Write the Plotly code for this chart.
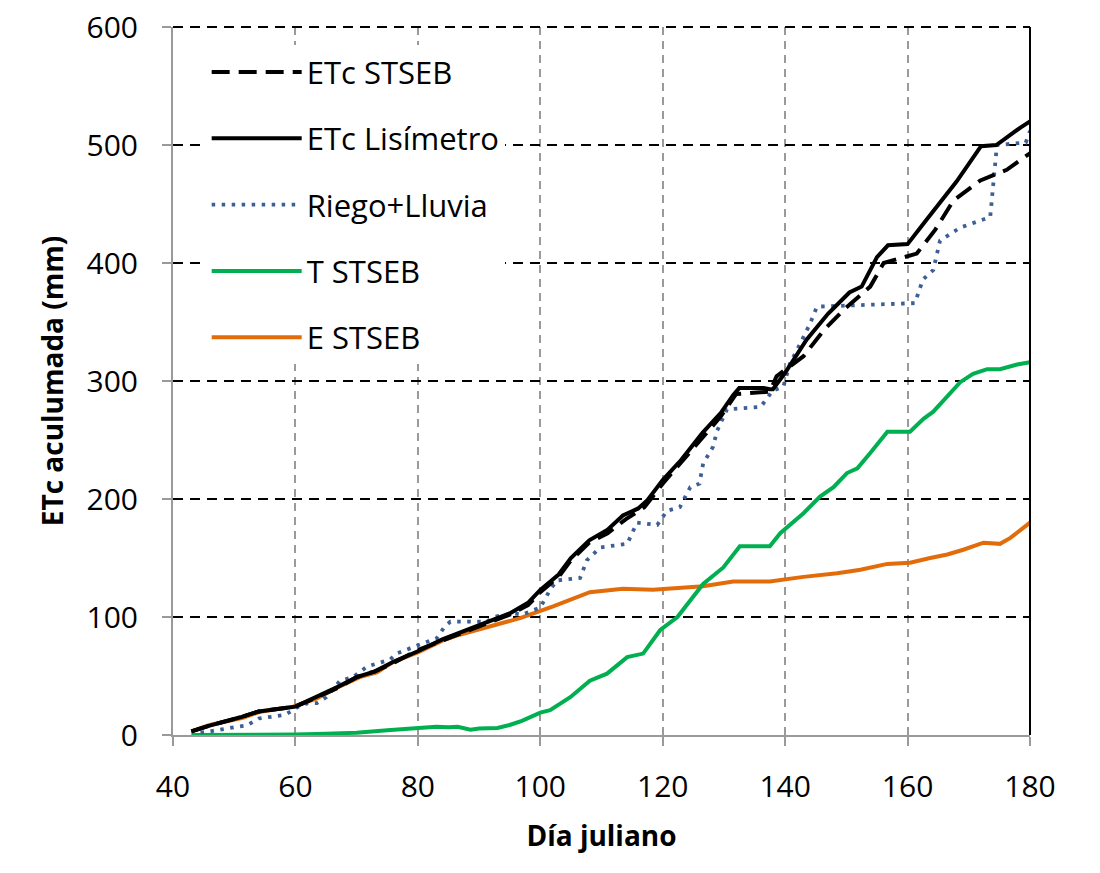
import plotly.graph_objects as go

# ETc Lisímetro (solid black)
lis_day = [43, 46, 51, 54, 60, 63, 67, 70, 73, 76, 80, 84, 87, 90, 92, 95, 98, 100, 103, 105,
           108, 111, 113.5, 116, 117.5, 120, 123, 126.5, 129.5, 131.5, 132.5, 136.5, 137.5, 138,
           140, 143.5, 147, 150.5, 152.5, 155, 156.8, 160, 163, 165.5, 168, 172, 174.5, 178.5, 180]
lis_val = [3, 8, 15, 20, 24, 31, 41, 49, 54, 62, 71, 81, 87, 93, 97, 103, 112, 123, 136, 150,
           165, 174, 186, 192, 199, 216, 233, 256, 273, 288, 294, 294, 293, 293,
           307, 335, 357, 375, 380, 405, 415, 416, 436, 453, 469, 499, 500, 515, 520]

# ETc STSEB (dashed black)
sts_day = [43, 46, 51, 54, 60, 63, 67, 70, 73, 76, 80, 84, 87, 90, 92, 95, 98, 100, 103, 105,
           108, 111, 114, 117, 120, 123, 126.5, 129.5, 132, 135.5, 137.5, 138.6, 143, 146.3,
           149.5, 153.9, 156.1, 161.5, 164.5, 167.5, 171.9, 176.2, 180]
sts_val = [3, 8, 15, 20, 24, 31, 40, 49, 54, 61, 72, 80, 86, 92, 96, 102, 110, 121, 134, 148,
           163, 171, 183, 193, 213, 231, 252, 270, 289, 290, 291, 304, 321, 343,
           360, 380, 400, 408, 428, 453, 470, 479, 493]

# Riego+Lluvia (dotted blue)
rl_day = [44.5, 46, 50.5, 52, 54, 58.3, 60.5, 62, 63.5, 65, 67.3, 69.4, 71.7, 73, 75.5, 76.5,
          78.7, 80, 83.1, 84.4, 85.3, 91.3, 92.3, 95.6, 97, 100, 101.6, 102.7, 106.5, 107.6,
          109.8, 114.2, 115.8, 119.1, 120.7, 122.8, 124.5, 126, 126.6, 128.2, 128.9, 130.5,
          136, 138, 139.7, 140.8, 142.5, 144.1, 145.2, 161.2, 162.5, 164.2, 165.3, 168.6,
          173.5, 174, 174.6, 179.3, 180]
rl_val = [2, 3, 7, 8, 14, 17, 24, 27, 27, 32, 46, 49, 58, 60, 64, 69,
          73, 76, 82, 92, 96, 96, 100, 103, 102, 108, 123, 131, 133, 148,
          159, 162, 180, 178, 190, 193, 210, 213, 230, 244, 258, 276,
          278, 292, 295, 315, 332, 349, 363, 366, 386, 394, 419, 430,
          439, 470, 500, 502, 512]

# T STSEB (green)
t_day = [43, 50, 60, 65, 70, 75, 80, 83, 85, 86.5, 88.6, 90, 93, 95, 97, 100, 101.6, 104.9,
         108.1, 110.9, 114.2, 116.8, 119.6, 122.4, 126.6, 129.9, 132.6, 137.5, 139.2, 140.8,
         143, 145.7, 147.9, 150.1, 151.8, 153.9, 156.7, 160.4, 162.6, 164.2, 166.5, 168.6,
         170.7, 173, 175.1, 177.9, 180]
t_val = [0, 0, 0.5, 1, 2, 4, 6, 7, 6.5, 7, 4.5, 5.5, 6, 8.5, 12, 19, 21, 32,
         46, 52, 66, 69, 89, 100, 128, 142, 160, 160, 171, 178,
         188, 202, 210, 222, 226, 239, 257, 257, 268, 274, 287, 299,
         306, 310, 310, 314, 316]

# E STSEB (orange)
e_day = [43, 46, 51.4, 54.2, 59.6, 63.5, 66.8, 70.5, 73.3, 76, 80, 84, 86.8, 92.3, 96.7,
         102.1, 108.1, 113.5, 118.4, 126.6, 131.5, 137.5, 143, 148.5, 152.3, 156.7, 160.4,
         163.7, 166.5, 169.1, 172.4, 175.1, 176.8, 180]
e_val = [3, 8.5, 14.5, 19.7, 24, 31, 40, 49, 53, 62, 70, 80, 85, 93, 99,
         109, 121, 124, 123, 126, 130, 130, 134, 137, 140, 145, 146,
         150, 153, 157, 163, 162, 167, 180]

x_ticks = [40, 60, 80, 100, 120, 140, 160, 180]
y_ticks = [0, 100, 200, 300, 400, 500, 600]

FONT = "Open Sans"

fig = go.Figure()
series = [
    ("ETc STSEB", sts_day, sts_val, dict(color="black", width=4, dash="18px,9px")),
    ("ETc Lisímetro", lis_day, lis_val, dict(color="black", width=4)),
    ("Riego+Lluvia", rl_day, rl_val, dict(color="#3E5F96", width=3.8, dash="3.5px,6.5px")),
    ("T STSEB", t_day, t_val, dict(color="#00B050", width=4)),
    ("E STSEB", e_day, e_val, dict(color="#E36C0A", width=4)),
]
draw_order = [4, 3, 2, 1, 0]
for i in draw_order:
    name, xs, ys, ln = series[i]
    fig.add_trace(go.Scatter(x=xs, y=ys, mode="lines", name=name, line=ln,
                             legendgroup=name, legendrank=i + 1))

fig.update_layout(
    width=1100, height=873,
    margin=dict(l=173, r=70, t=27, b=138, autoexpand=False),
    paper_bgcolor="white", plot_bgcolor="white",
    font=dict(family=FONT, size=30, color="black"),
    legend=dict(x=0.0393, y=0.974, xanchor="left", yanchor="top",
                bgcolor="white", borderwidth=0,
                font=dict(family=FONT, size=31, color="black"),
                tracegroupgap=23, itemwidth=90,
                traceorder="grouped"),
    xaxis=dict(range=[40, 180], tickvals=x_ticks, ticktext=[str(v) for v in x_ticks],
               showgrid=True, gridcolor="#9A9A9A", griddash="8px,6px", gridwidth=2,
               showline=True, linecolor="#9A9A9A", linewidth=2,
               ticks="outside", ticklen=9, tickcolor="#9A9A9A", tickwidth=2,
               zeroline=False, ticklabelstandoff=15, automargin=False,
               ticklabeloverflow="allow",
               tickfont=dict(family=FONT, size=30),
               title=dict(text="<b>Día juliano</b>", font=dict(family=FONT, size=28), standoff=21)),
    yaxis=dict(range=[0, 600], tickvals=y_ticks, ticktext=[str(v) for v in y_ticks],
               showgrid=True, gridcolor="black", griddash="10px,7px", gridwidth=2,
               showline=True, linecolor="#9A9A9A", linewidth=2,
               ticks="outside", ticklen=9, tickcolor="#9A9A9A", tickwidth=2,
               zeroline=False, ticklabelstandoff=18, automargin=False,
               ticklabeloverflow="allow",
               tickfont=dict(family=FONT, size=30),
               title=dict(text="<b>ETc aculumada (mm)</b>", font=dict(family=FONT, size=28), standoff=15)),
    shapes=[
        dict(type="line", xref="paper", yref="paper", x0=1, x1=1, y0=0, y1=1,
             line=dict(color="black", width=2)),
        dict(type="line", xref="paper", yref="paper", x0=0, x1=1, y0=1, y1=1,
             line=dict(color="black", width=2, dash="10px,7px")),
    ],
)

fig.write_html("out.html", config={"displayModeBar": False},
               post_script="document.body.style.margin='0';document.body.style.overflow='hidden';")
